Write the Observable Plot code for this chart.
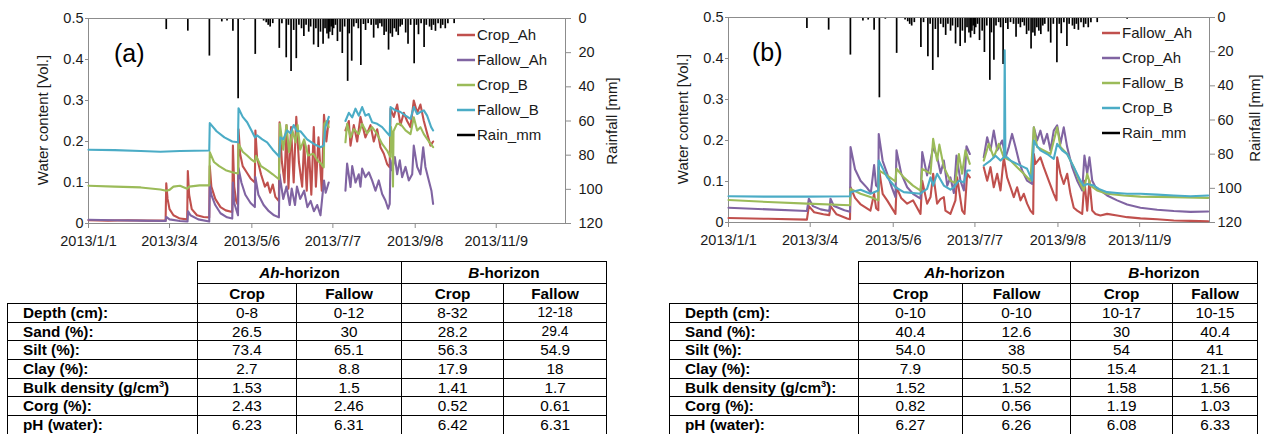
<!DOCTYPE html>
<html><head><meta charset="utf-8">
<script src="https://cdn.jsdelivr.net/npm/d3@7"></script>
<script src="https://cdn.jsdelivr.net/npm/@observablehq/plot@0.6"></script>
<style>
html,body{margin:0;padding:0;background:#fff;}
#root{position:relative;width:1267px;height:445px;overflow:hidden;font-family:"Liberation Sans",Arial,sans-serif;color:#000;background:#fff;}
.layer{position:absolute;top:0;}
.layer svg{background:transparent !important;max-width:none !important;display:block;}
table.soil{position:absolute;border-collapse:collapse;table-layout:fixed;font-size:15.3px;font-family:"Liberation Sans",Arial,sans-serif;}
table.soil td{border:1.5px solid #000;padding:0;text-align:center;white-space:nowrap;overflow:hidden;line-height:16px;}
table.soil tr{height:18.7px;}
table.soil tr.h0{height:22px;}
table.soil tr.h1{height:20px;}
table.soil td.blank{border:none;}
table.soil td.lab{text-align:left;padding-left:15px;font-weight:bold;}
table.soil tr.h0 td, table.soil tr.h1 td{font-weight:bold;}
table.soil tr.last td{border-bottom:none;}
table.soil td.sm{font-size:13.8px;}
sup{font-size:0.6em;vertical-align:super;line-height:0;}
</style></head>
<body><div id="root"></div>
<script>
// ---------- data ----------
const xTickDays = [0, 62, 125, 187, 250, 312];
const xTickLabels = ["2013/1/1","2013/3/4","2013/5/6","2013/7/7","2013/9/8","2013/11/9"];
const waterTicks = [0, 0.1, 0.2, 0.3, 0.4, 0.5];
const rainTicks = [0, 20, 40, 60, 80, 100, 120];

// [day of 2013, mm]
const rainfall = [[59.5,6.5],[76,7.4],[92.5,22],[102,2],[106,1.5],[110.5,7.5],[114.5,47],[119,1],[127.6,21],[134,1.5],[136,2.5],[137.5,4],[139,5],[141,3],[146,17.5],[148,3],[151.3,23],[153,4],[155,31],[157,7],[159,23.5],[161,4],[163,6],[164.8,10.5],[166.5,4],[168.5,8],[170,5],[172.3,15.5],[174,6],[175.8,17],[177.5,8],[179.5,15],[181,6],[182.5,9],[183.7,12],[184.7,8],[185.7,5],[186.6,10],[187.6,6],[189,4],[190.5,13.5],[192.5,8],[194.2,20.5],[196,5],[198.3,36.8],[199.5,9],[201.4,25],[203,5],[205,3],[206.5,6],[208.4,27.5],[210.4,3.5],[212,7],[214,3],[216.3,4],[218.2,11.5],[220,4],[221.5,6],[223,3],[224.5,5],[226.2,10],[227.8,8],[229.6,18.5],[231,9],[232.5,11],[234,6],[235.5,8],[237,10],[238.5,5],[240,4],[242.7,8.5],[244.5,15],[246.5,4],[249.2,26.5],[251,4],[252.5,9.5],[254.5,3],[256.8,17],[258.5,4],[261,5],[262.5,7],[264,4],[265.5,7.5],[267.5,3],[269.5,6],[271,4],[273,6],[275,3],[279.8,3],[302.5,1]];

// panel (a) water content [day, vol]
const a_CropAh = [[0,0.008],[15,0.007],[30,0.008],[45,0.007],[59,0.007],[59.5,0.098],[60.5,0.06],[62,0.035],[65,0.02],[70,0.012],[75.5,0.01],[76,0.128],[77,0.07],[79,0.035],[83,0.02],[88,0.016],[92.4,0.015],[92.8,0.14],[94,0.09],[97,0.06],[101,0.04],[105,0.032],[110,0.028],[110.5,0.19],[111.5,0.09],[113,0.055],[114.4,0.045],[114.8,0.23],[116,0.17],[118,0.14],[121,0.125],[124,0.11],[127.3,0.1],[127.7,0.227],[129,0.16],[132,0.12],[135,0.09],[137,0.1],[139,0.075],[141,0.095],[143,0.065],[145.7,0.055],[146.2,0.247],[148,0.15],[150,0.1],[151.5,0.24],[153,0.085],[155,0.235],[157,0.1],[159,0.26],[161,0.15],[163.5,0.09],[165,0.2],[167,0.08],[168.5,0.19],[170.5,0.07],[172.4,0.235],[174,0.09],[176,0.21],[178.5,0.08],[180.2,0.265],[182,0.2],[183.8,0.25],[190,null],[196.6,0.227],[199.2,0.25],[200.5,0.19],[203,0.24],[205.6,0.2],[208.1,0.26],[211.9,0.21],[215.8,0.24],[218.3,0.2],[220.9,0.23],[223.4,0.186],[226,0.17],[228.5,0.145],[230.5,0.137],[231.1,0.28],[233.6,0.26],[236.2,0.29],[238.7,0.24],[241.3,0.27],[243.8,0.25],[246.4,0.235],[248.9,0.3],[251.5,0.27],[254,0.29],[256.6,0.25],[259.1,0.22],[261.7,0.19],[263.7,0.2]];
const a_FallowAh = [[0,0.009],[20,0.008],[40,0.007],[59,0.006],[59.5,0.016],[62,0.01],[70,0.006],[75.8,0.005],[76.2,0.03],[78,0.02],[84,0.01],[92.4,0.005],[92.8,0.095],[94,0.07],[97,0.045],[101,0.025],[106,0.015],[110,0.012],[110.5,0.1],[111.5,0.05],[114.4,0.02],[114.8,0.135],[117,0.1],[120,0.07],[124,0.05],[127.3,0.04],[127.7,0.113],[130,0.07],[134,0.045],[138,0.03],[142,0.02],[145.7,0.015],[146.2,0.12],[149,0.06],[151.5,0.09],[154,0.045],[155.5,0.085],[158,0.045],[159.5,0.09],[162,0.06],[165,0.08],[167.5,0.04],[170,0.055],[172.5,0.03],[175,0.045],[177.5,0.02],[180.2,0.105],[181.5,0.075],[183.8,0.1],[190,null],[196.6,0.08],[197.9,0.146],[200.5,0.089],[201.8,0.14],[204.3,0.1],[206.8,0.12],[208.1,0.09],[209.4,0.134],[211.9,0.113],[214.5,0.125],[217,0.105],[219.6,0.08],[222.1,0.105],[224.7,0.072],[227.2,0.056],[229.3,0.036],[230.5,0.048],[231.1,0.154],[232.4,0.13],[234.4,0.162],[236.2,0.12],[238.2,0.154],[240,0.113],[242.6,0.138],[245.1,0.105],[247.7,0.12],[248.9,0.19],[251.5,0.138],[254,0.12],[256.1,0.186],[257.8,0.138],[260.4,0.105],[262.4,0.08],[263.7,0.048]];
const a_CropB = [[0,0.092],[20,0.09],[40,0.088],[55,0.083],[59.5,0.08],[62,0.082],[65,0.09],[70,0.092],[75.5,0.085],[77,0.09],[85,0.093],[92.4,0.093],[92.8,0.174],[96,0.15],[100,0.14],[105,0.13],[110,0.125],[114.4,0.122],[114.8,0.194],[118,0.175],[121.4,0.166],[125,0.155],[127.4,0.15],[128.2,0.165],[132,0.14],[136.7,0.13],[141,0.12],[145.7,0.108],[146.5,0.243],[149,0.18],[151.5,0.24],[153.5,0.174],[156,0.227],[158.5,0.198],[160,0.24],[162,0.18],[165,0.205],[168,0.166],[172,0.17],[175,0.155],[178,0.146],[180,0.137],[180.5,0.243],[182,0.25],[183.8,0.235],[190,null],[196.6,0.198],[197.9,0.243],[200.5,0.21],[203,0.23],[206.8,0.218],[209.4,0.243],[213.2,0.22],[217,0.235],[220.9,0.218],[224.7,0.194],[228.5,0.178],[231,0.162],[231.5,0.235],[232.6,0.2],[233,0.09],[233.4,0.225],[236,0.243],[238.7,0.243],[242.6,0.227],[246.4,0.218],[248.9,0.259],[251.5,0.227],[254,0.235],[256.6,0.218],[260.4,0.2],[263.7,0.186]];
const a_FallowB = [[0,0.18],[20,0.179],[40,0.177],[55,0.175],[70,0.177],[92.4,0.178],[92.8,0.245],[98,0.225],[104,0.21],[110,0.2],[114.4,0.198],[114.8,0.281],[118,0.26],[121.4,0.247],[125,0.225],[127.4,0.21],[129,0.215],[133,0.205],[136.7,0.198],[141,0.18],[146,0.163],[146.8,0.21],[149,0.205],[152,0.227],[154.5,0.22],[157,0.24],[159.5,0.225],[162.2,0.225],[167.3,0.205],[172.4,0.194],[177.5,0.186],[180,0.19],[181.3,0.235],[183.9,0.26],[190,null],[196.6,0.25],[199.2,0.27],[201.8,0.259],[204.3,0.28],[206.8,0.263],[209.4,0.284],[211.9,0.263],[214.5,0.267],[217,0.247],[220.9,0.243],[224.7,0.235],[228,0.223],[230.5,0.214],[231.1,0.284],[234.9,0.276],[238.7,0.272],[242.6,0.263],[246.4,0.255],[248.9,0.284],[251.5,0.267],[254,0.272],[256.6,0.276],[259.1,0.263],[262.2,0.235],[263.7,0.227]];

// panel (b) water content [day, vol]
const b_FallowAh = [[0,0.011],[30,0.009],[59.5,0.007],[61,0.04],[65,0.025],[72,0.02],[76.5,0.018],[77.4,0.04],[82,0.02],[90,0.01],[92.2,0.008],[92.6,0.086],[96,0.06],[100,0.045],[107.7,0.029],[110.5,0.07],[112,0.035],[113.7,0.03],[114,0.135],[117,0.07],[120.4,0.054],[126.7,0.021],[127.5,0.086],[131,0.06],[135.6,0.046],[140,0.054],[145.7,0.021],[147,0.102],[150.7,0.046],[153.3,0.062],[155.3,0.119],[158.3,0.046],[160.8,0.057],[163.4,0.062],[164.6,0.029],[168.4,0.021],[172.2,0.054],[173.5,0.11],[177.3,0.029],[179.1,0.021],[181.1,0.119],[183.1,0.11],[188,null],[193.7,0.135],[196.3,0.102],[198.8,0.135],[201.3,0.086],[203.9,0.119],[206.4,0.078],[208.9,0.159],[211.4,0.11],[214,0.086],[216.5,0.062],[219,0.086],[221.6,0.054],[224.1,0.07],[226.6,0.046],[229.1,0.029],[231.2,0.021],[231.7,0.167],[232.9,0.143],[236.7,0.159],[239.2,0.135],[243,0.102],[246.8,0.07],[248.9,0.054],[249.4,0.159],[251.9,0.119],[254.4,0.094],[257,0.119],[259.5,0.07],[262,0.036],[264.6,0.029],[268.4,0.021],[270.1,0.102],[272.2,0.029],[273.9,0.102],[276,0.029],[278.5,0.021],[282.2,0.017],[287.3,0.021],[294.9,0.017],[302.5,0.013],[312.6,0.01],[325.3,0.008],[337.9,0.005],[350.5,0.004],[364,0.003]];
const b_CropAh = [[0,0.036],[30,0.032],[59.5,0.028],[61,0.058],[64,0.04],[70,0.032],[76.5,0.028],[77.4,0.058],[80,0.04],[88,0.03],[92.2,0.026],[92.6,0.184],[96,0.13],[100.2,0.102],[105,0.085],[108,0.072],[110.5,0.14],[112,0.09],[113.7,0.085],[114,0.216],[117,0.15],[120.4,0.119],[124,0.085],[126.7,0.062],[127.5,0.176],[131,0.12],[135.6,0.086],[140,0.07],[145.7,0.058],[147,0.172],[150.7,0.115],[153.3,0.151],[155.3,0.184],[158.3,0.16],[161,0.12],[163.4,0.151],[166,0.09],[168.4,0.11],[171,0.072],[173,0.163],[176,0.102],[178.6,0.078],[180.6,0.186],[183.1,0.167],[188,null],[193.7,0.159],[196.3,0.208],[198.8,0.176],[201.3,0.224],[203.9,0.176],[207.7,0.2],[210.2,0.159],[212.7,0.184],[215.2,0.216],[217.8,0.184],[220.3,0.151],[222.8,0.127],[226.6,0.102],[230.4,0.094],[231.7,0.232],[234.2,0.2],[236.7,0.224],[239.2,0.192],[241.8,0.216],[244.3,0.176],[246.8,0.224],[249.4,0.237],[251.9,0.192],[254.4,0.232],[257,0.184],[260.8,0.135],[264.6,0.102],[268.4,0.078],[270.1,0.163],[272.2,0.119],[273.9,0.159],[276,0.102],[278.5,0.086],[282.2,0.078],[287.3,0.066],[294.9,0.054],[302.5,0.044],[312.6,0.036],[325.3,0.031],[337.9,0.028],[350.5,0.026],[364,0.027]];
const b_FallowB = [[0,0.055],[30,0.05],[59.7,0.046],[92.2,0.042],[92.6,0.082],[100.2,0.07],[107.7,0.062],[113.7,0.054],[114,0.127],[120.4,0.115],[126.7,0.1],[127.5,0.131],[133,0.11],[140,0.09],[145.7,0.078],[147,0.131],[153.3,0.119],[155.3,0.204],[158.3,0.151],[160,0.19],[163.4,0.135],[168.4,0.102],[172.2,0.096],[174.8,0.167],[177.3,0.119],[179.8,0.176],[183.1,0.143],[188,null],[193.7,0.151],[197.5,0.192],[201.3,0.159],[205.1,0.192],[208.9,0.159],[214,0.151],[219,0.135],[224.1,0.119],[229.1,0.102],[231.7,0.232],[234.2,0.184],[239.2,0.176],[244.3,0.167],[249.4,0.232],[251.9,0.184],[257,0.167],[262,0.135],[267.1,0.094],[269.6,0.078],[272.2,0.119],[274.7,0.09],[279.7,0.078],[287.3,0.07],[299.9,0.066],[312.6,0.063],[337.9,0.062],[364,0.06]];
const b_CropB = [[0,0.064],[30,0.063],[60,0.063],[92.2,0.064],[92.6,0.074],[100.2,0.08],[107.7,0.07],[113.7,0.078],[114,0.151],[120.4,0.11],[126.7,0.086],[133,0.074],[145.7,0.07],[147,0.074],[150.7,0.082],[153.3,0.11],[155.3,0.09],[158.3,0.119],[163.4,0.09],[168.4,0.08],[171,0.086],[174.8,0.102],[178.6,0.098],[181.1,0.127],[183.1,0.127],[188,null],[193.7,0.139],[198.8,0.151],[202.6,0.163],[206.4,0.151],[209.2,0.16],[209.6,0.42],[210.1,0.16],[211.4,0.159],[214,0.151],[219,0.143],[224.1,0.135],[226.6,0.131],[230.4,0.102],[231.7,0.2],[232.9,0.192],[236.7,0.176],[241.8,0.167],[246.8,0.155],[249.4,0.192],[253.2,0.176],[257,0.167],[262,0.135],[267.1,0.102],[269.6,0.09],[272.2,0.094],[277.2,0.09],[281,0.082],[287.3,0.074],[294.9,0.072],[302.5,0.07],[312.6,0.07],[325.3,0.068],[337.9,0.066],[350.5,0.064],[364,0.066]];

// tables
const tableRowLabels = ["Depth (cm):","Sand (%):","Silt (%):","Clay (%):","Bulk density (g/cm<sup>3</sup>)","Corg (%):","pH (water):"];
const tableRowLabelsB = ["Depth (cm):","Sand (%):","Silt (%):","Clay (%):","Bulk density (g/cm<sup>3</sup>):","Corg (%):","pH (water):"];
const tableSubHeads = ["Crop","Fallow","Crop","Fallow"];
const tableA = [["0-8","0-12","8-32","12-18"],["26.5","30","28.2","29.4"],["73.4","65.1","56.3","54.9"],["2.7","8.8","17.9","18"],["1.53","1.5","1.41","1.7"],["2.43","2.46","0.52","0.61"],["6.23","6.31","6.42","6.31"]];
const tableB = [["0-10","0-10","10-17","10-15"],["40.4","12.6","30","40.4"],["54.0","38","54","41"],["7.9","50.5","15.4","21.1"],["1.52","1.52","1.58","1.56"],["0.82","0.56","1.19","1.03"],["6.27","6.26","6.08","6.33"]];

// ---------- drawing ----------
const RED="#C0504D", PURPLE="#8064A2", GREEN="#9BBB59", CYAN="#4BACC6";
const FONT='"Liberation Sans", Arial, sans-serif';
const DAY0 = Date.UTC(2013,0,1);
const toDate = d => new Date(DAY0 + d*86400000);
const labelByTime = new Map(xTickDays.map((d,i)=>[+toDate(d), xTickLabels[i]]));
const root = document.getElementById("root");

function addLayer(svg, left){
  const w = document.createElement("div");
  w.className = "layer"; w.style.left = left + "px";
  w.appendChild(svg); root.appendChild(w);
}

function panel(cfg){
  const common = {
    width: cfg.width, height: cfg.height,
    marginLeft: cfg.ml, marginRight: cfg.mr, marginTop: cfg.mt, marginBottom: cfg.mb,
    style: {background:"transparent", fontFamily: FONT, fontSize:"14.5px", color:"#1a1a1a", overflow:"visible"}
  };
  const rainPlot = Plot.plot({
    ...common,
    x: {type:"utc", domain:[toDate(0), toDate(365)], axis:null},
    y: {domain:[0,120], reverse:true, axis:null},
    marks: [
      Plot.ruleX(rainfall, {x: d=>toDate(d[0]), y1: 0, y2: d=>d[1], stroke:"#000", strokeWidth:1.7}),
      Plot.axisY({anchor:"right", ticks: rainTicks, tickSize:5, tickPadding: cfg.rpad, label:null, stroke:"#8c8c8c", fill:"#1a1a1a"})
    ]
  });
  const linePlot = Plot.plot({
    ...common,
    x: {type:"utc", domain:[toDate(0), toDate(365)]},
    y: {domain:[0,0.5]},
    marks: [
      Plot.frame({stroke:"#8c8c8c"}),
      ...cfg.series.map(s => Plot.line(s.data, {x: d=>toDate(d[0]), y: d=>d[1], stroke: s.color, strokeWidth: 2.1, strokeLinejoin:"round"})),
      Plot.axisX({ticks: xTickDays.map(toDate), tickFormat: d => labelByTime.get(+d), tickSize:5, tickPadding:7, label:null, stroke:"#8c8c8c", fill:"#1a1a1a"}),
      Plot.axisY({anchor:"left", ticks: waterTicks, tickFormat: d => d===0 ? "0" : d.toFixed(1), tickSize:3, tickPadding:2, label:null, stroke:"#8c8c8c", fill:"#1a1a1a"})
    ]
  });
  addLayer(rainPlot, cfg.left);
  addLayer(linePlot, cfg.left);
}

panel({left:0, width:640, height:260, ml:88, mr:75, mt:18, mb:37, rpad:8,
  series:[{data:a_CropAh,color:RED},{data:a_FallowAh,color:PURPLE},{data:a_CropB,color:GREEN},{data:a_FallowB,color:CYAN}]});
panel({left:640, width:627, height:260, ml:88, mr:58, mt:17, mb:38, rpad:3,
  series:[{data:b_FallowAh,color:RED},{data:b_CropAh,color:PURPLE},{data:b_FallowB,color:GREEN},{data:b_CropB,color:CYAN}]});

// annotations: panel labels, axis titles, legends
const ann = d3.select(root).append("svg")
  .attr("width",1267).attr("height",260)
  .style("position","absolute").style("left","0px").style("top","0px")
  .style("font-family",FONT).style("pointer-events","none");

ann.append("text").attr("x",114).attr("y",62).attr("font-size",25).text("(a)");
ann.append("text").attr("x",752).attr("y",61).attr("font-size",25).text("(b)");

[[43,120],[683,119]].forEach(([x,y])=>{
  ann.append("text").attr("transform",`translate(${x},${y}) rotate(-90)`).attr("text-anchor","middle")
    .attr("dy","0.35em").attr("font-size",15).attr("fill","#1a1a1a").text("Water content [Vol.]");
});
[[612,121],[1255,118]].forEach(([x,y])=>{
  ann.append("text").attr("transform",`translate(${x},${y}) rotate(-90)`).attr("text-anchor","middle")
    .attr("dy","0.35em").attr("font-size",15).attr("fill","#1a1a1a").text("Rainfall [mm]");
});

function legend(x0, y0, names, colors){
  names.forEach((n,i)=>{
    const y = y0 + i*25;
    ann.append("line").attr("x1",x0).attr("x2",x0+18).attr("y1",y).attr("y2",y)
      .attr("stroke",colors[i]).attr("stroke-width",2.5);
    ann.append("text").attr("x",x0+20).attr("y",y).attr("dy","0.35em").attr("font-size",15).attr("fill","#1a1a1a").text(n);
  });
}
legend(457, 35, ["Crop_Ah","Fallow_Ah","Crop_B","Fallow_B","Rain_mm"], [RED,PURPLE,GREEN,CYAN,"#000"]);
legend(1102, 33, ["Fallow_Ah","Crop_Ah","Fallow_B","Crop_B","Rain_mm"], [RED,PURPLE,GREEN,CYAN,"#000"]);

// tables
function table(left, colW, labels, rows, smallCells){
  const t = d3.select(root).append("table").attr("class","soil")
    .style("left",left+"px").style("top","261px");
  const cg = t.append("colgroup");
  colW.forEach(w=>cg.append("col").style("width",w+"px"));
  t.style("width", d3.sum(colW)+"px");
  const r0 = t.append("tr").attr("class","h0");
  r0.append("td").attr("class","blank");
  r0.append("td").attr("colspan",2).html("<i>Ah</i>-horizon");
  r0.append("td").attr("colspan",2).html("<i>B</i>-horizon");
  const r1 = t.append("tr").attr("class","h1");
  r1.append("td").attr("class","blank");
  tableSubHeads.forEach(h=>r1.append("td").text(h));
  rows.forEach((vals,i)=>{
    const tr = t.append("tr").attr("class", i===rows.length-1 ? "last" : null);
    tr.append("td").attr("class","lab").html(labels[i]);
    vals.forEach((v,j)=>tr.append("td").attr("class", smallCells.has(i+","+j) ? "sm" : null).text(v));
  });
}
table(7, [190,99,105,102,103], tableRowLabels, tableA, new Set(["0,3","1,3"]));
table(669, [189,104,108,102,85], tableRowLabelsB, tableB, new Set());
</script>
</body></html>
